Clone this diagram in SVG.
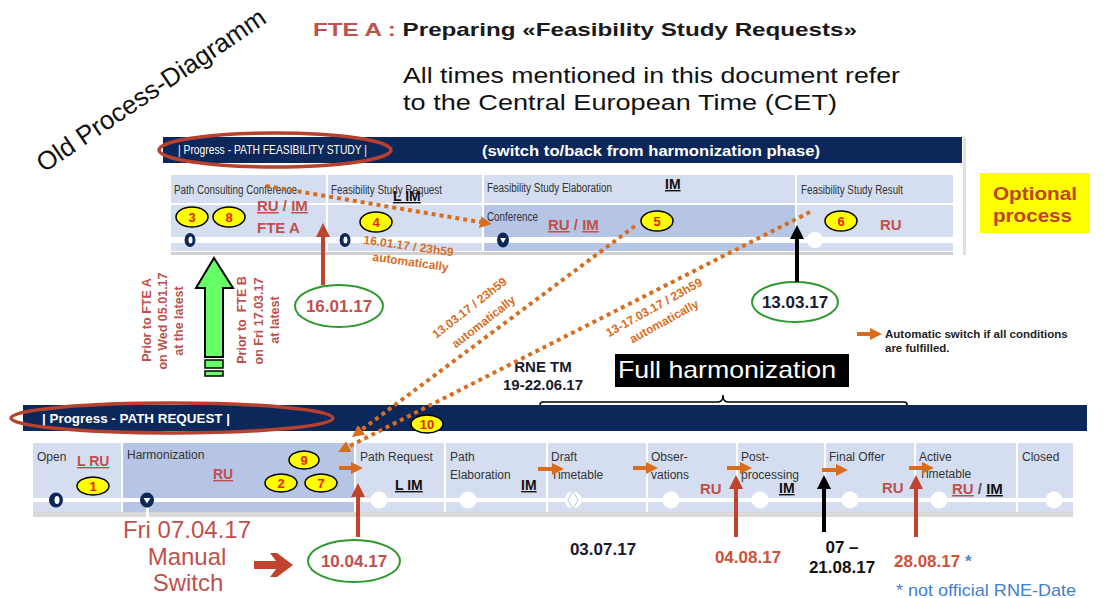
<svg xmlns="http://www.w3.org/2000/svg" width="1104" height="598" viewBox="0 0 1104 598">
<defs>
<style>
text{font-family:"Liberation Sans",Arial,sans-serif}
.hdr{font-size:12px;fill:#333}
.rd{fill:#c0504d;font-weight:bold}
.bk{fill:#111;font-weight:bold}
.ul{text-decoration:underline}
.cl{fill:#d5def0}
.cd{fill:#b6c5e6}
.navy{fill:#0c2759}
.badge ellipse{fill:#ffff00;stroke:#000;stroke-width:1.5}
.badge text{fill:#e8200c;font-weight:bold;font-size:13px;text-anchor:middle}
.dot{stroke:#d96d1e;stroke-width:4;stroke-dasharray:4 4;fill:none}
.oa{stroke:#d96d1e;stroke-width:4;fill:none}
.ra{stroke:#c0432d;stroke-width:4;fill:none}
.ka{stroke:#000;stroke-width:4;fill:none}
.orn{fill:#d96d1e;font-weight:bold;font-size:12px;text-anchor:middle}
.prior{fill:#c0504d;font-weight:bold;font-size:12.5px;text-anchor:middle}
.date{font-weight:bold;font-size:17px;text-anchor:middle}
.gell{fill:#fff;stroke:#2e9a2e;stroke-width:2}
.node{fill:#0c2759}
.wnode{fill:#fff}
</style>
<marker id="ahO" viewBox="0 0 12 12" refX="2" refY="6" markerWidth="12" markerHeight="12" markerUnits="userSpaceOnUse" orient="auto"><path d="M0,0 L12,6 L0,12 Z" fill="#d96d1e"/></marker>
<marker id="ahR" viewBox="0 0 14 14" refX="2" refY="7" markerWidth="14" markerHeight="14" markerUnits="userSpaceOnUse" orient="auto"><path d="M0,0 L14,7 L0,14 Z" fill="#c0432d"/></marker>
<marker id="ahK" viewBox="0 0 14 14" refX="2" refY="7" markerWidth="14" markerHeight="14" markerUnits="userSpaceOnUse" orient="auto"><path d="M0,0 L14,7 L0,14 Z" fill="#000"/></marker>
</defs>
<rect width="1104" height="598" fill="#fff"/>

<g id="titles">
<text x="44" y="173" transform="rotate(-34 44 173)" font-size="26" fill="#111">Old Process-Diagramm</text>
<text x="313" y="36" font-size="19" font-weight="bold" textLength="544" lengthAdjust="spacingAndGlyphs"><tspan fill="#c0504d">FTE A : </tspan><tspan fill="#1a1a1a">Preparing «Feasibility Study Requests»</tspan></text>
<text x="403" y="83" font-size="22" fill="#111" textLength="497" lengthAdjust="spacingAndGlyphs">All times mentioned in this document refer</text>
<text x="403" y="110" font-size="22" fill="#111" textLength="434" lengthAdjust="spacingAndGlyphs">to the Central European Time (CET)</text>
</g>

<g id="panel-feasibility">
<rect class="navy" x="163" y="137" width="799" height="26"/>
<rect x="963" y="137" width="3" height="118" fill="#e0e0e0"/>
<text x="178" y="154" font-size="12" fill="#fff" textLength="189" lengthAdjust="spacingAndGlyphs">| Progress - PATH FEASIBILITY STUDY |</text>
<text x="482" y="156" font-size="15" font-weight="bold" fill="#fff" textLength="338" lengthAdjust="spacingAndGlyphs">(switch to/back from harmonization phase)</text>
<ellipse cx="275" cy="150" rx="116" ry="17" fill="none" stroke="#b7402e" stroke-width="3.5"/>
<rect class="cl" x="171" y="175" width="155" height="28"/>
<rect class="cl" x="328" y="175" width="154" height="28"/>
<rect class="cl" x="484" y="175" width="311" height="28"/>
<rect class="cl" x="797" y="175" width="156" height="28"/>
<rect class="cl" x="171" y="205" width="155" height="32"/>
<rect class="cl" x="328" y="205" width="154" height="32"/>
<rect class="cd" x="484" y="205" width="311" height="32"/>
<rect class="cl" x="797" y="205" width="156" height="32"/>
<rect class="cl" x="171" y="243" width="155" height="8"/>
<rect class="cl" x="328" y="243" width="154" height="8"/>
<rect class="cd" x="484" y="243" width="311" height="8"/>
<rect class="cl" x="797" y="243" width="156" height="8"/>
<rect x="171" y="252" width="782" height="3" fill="#d0d0d0"/>
<text class="hdr" x="174" y="194" textLength="123" lengthAdjust="spacingAndGlyphs">Path Consulting Conference</text>
<text class="hdr" x="331" y="194" textLength="111" lengthAdjust="spacingAndGlyphs">Feasibility Study Request</text>
<text class="hdr" x="487" y="192" textLength="125" lengthAdjust="spacingAndGlyphs">Feasibility Study Elaboration</text>
<text class="hdr" x="801" y="194" textLength="102" lengthAdjust="spacingAndGlyphs">Feasibility Study Result</text>
<text class="hdr" x="487" y="221" textLength="51" lengthAdjust="spacingAndGlyphs">Conference</text>
<text class="bk ul" x="393" y="201" font-size="14">L IM</text>
<text class="bk ul" x="665" y="189" font-size="14">IM</text>
<text class="rd" x="257" y="211" font-size="15"><tspan class="ul">RU</tspan> / <tspan class="ul">IM</tspan></text>
<text class="rd" x="257" y="233" font-size="15">FTE A</text>
<text class="rd" x="548" y="230" font-size="15"><tspan class="ul">RU</tspan> / <tspan class="ul">IM</tspan></text>
<text class="rd" x="880" y="230" font-size="15">RU</text>
<g class="badge"><ellipse cx="192" cy="217" rx="16" ry="10"/><text x="192" y="222">3</text></g>
<g class="badge"><ellipse cx="229" cy="217" rx="16" ry="10"/><text x="229" y="222">8</text></g>
<g class="badge"><ellipse cx="376" cy="222" rx="16" ry="10"/><text x="376" y="227">4</text></g>
<g class="badge"><ellipse cx="657" cy="221" rx="16" ry="10"/><text x="657" y="226">5</text></g>
<g class="badge"><ellipse cx="841" cy="221" rx="16" ry="10"/><text x="841" y="226">6</text></g>
<g id="upper-nodes">
<ellipse class="node" cx="190" cy="240" rx="5.5" ry="7"/><ellipse cx="190.5" cy="240" rx="2" ry="3.5" fill="#fff"/>
<ellipse class="node" cx="345" cy="240" rx="5.5" ry="7"/><ellipse cx="345.5" cy="240" rx="2" ry="3.5" fill="#fff"/>
<ellipse class="node" cx="503" cy="240" rx="6" ry="7.5"/><path d="M500,238 L506,238 L503,243 Z" fill="#fff"/>
<circle class="wnode" cx="815" cy="240" r="8"/>
</g>
</g>

<g id="optional">
<rect x="980" y="173" width="110" height="60" fill="#ffff00"/>
<text x="993" y="200" font-size="18" font-weight="bold" fill="#c0432d" textLength="84" lengthAdjust="spacingAndGlyphs">Optional</text>
<text x="993" y="222" font-size="18" font-weight="bold" fill="#c0432d" textLength="79" lengthAdjust="spacingAndGlyphs">process</text>
</g>

<g id="green-arrow">
<path d="M214,258 L233,288 L223,288 L223,357 L205,357 L205,288 L196,288 Z" fill="#66ff66" stroke="#000" stroke-width="2"/>
<rect x="205" y="360" width="18" height="8" fill="#66ff66" stroke="#000" stroke-width="1.5"/>
<rect x="205" y="371" width="18" height="5" fill="#66ff66" stroke="#000" stroke-width="1.5"/>
</g>

<g id="prior-labels">
<text class="prior" transform="translate(151,320) rotate(-90)">Prior to FTE A</text>
<text class="prior" transform="translate(167,321) rotate(-90)">on Wed 05.01.17</text>
<text class="prior" transform="translate(183,321) rotate(-90)">at the latest</text>
<text class="prior" transform="translate(246,320) rotate(-90)" xml:space="preserve">Prior to  FTE B</text>
<text class="prior" transform="translate(263,321) rotate(-90)">on Fri 17.03.17</text>
<text class="prior" transform="translate(279,320) rotate(-90)">at latest</text>
</g>

<g id="date-16-01">
<ellipse class="gell" cx="339" cy="306" rx="44" ry="21"/>
<text class="date" x="339" y="312" fill="#c0504d">16.01.17</text>
</g>
<g id="date-13-03">
<ellipse class="gell" cx="795" cy="302" rx="43" ry="20"/>
<text class="date" x="795" y="308" fill="#1a1a33">13.03.17</text>
</g>

<g id="legend">
<line class="oa" x1="857" y1="334" x2="872" y2="334" marker-end="url(#ahO)"/>
<text x="885" y="338" font-size="11.5" font-weight="bold" fill="#222">Automatic switch if all conditions</text>
<text x="885" y="352" font-size="11.5" font-weight="bold" fill="#222">are fulfilled.</text>
</g>

<g id="rne">
<text x="543" y="372" font-size="15" font-weight="bold" fill="#1a1a2e" text-anchor="middle">RNE TM</text>
<text x="543" y="390" font-size="15" font-weight="bold" fill="#1a1a2e" text-anchor="middle">19-22.06.17</text>
</g>

<g id="full-harmonization">
<rect x="615" y="354" width="234" height="33" fill="#000"/>
<text x="618" y="378" font-size="24" fill="#fff" textLength="218" lengthAdjust="spacingAndGlyphs">Full harmonization</text>
<path d="M540,412 V405 Q540,402 543,402 H718 Q723,402 723,395 Q723,402 728,402 H904 Q907,402 907,405 V412" fill="none" stroke="#000" stroke-width="1.5"/>
</g>

<g id="panel-path-request">
<rect class="navy" x="23" y="405" width="1064" height="26"/>
<text x="42" y="423" font-size="13" font-weight="bold" fill="#fff" textLength="188" lengthAdjust="spacingAndGlyphs">| Progress - PATH REQUEST |</text>
<ellipse cx="172" cy="418" rx="161" ry="15" fill="none" stroke="#b7402e" stroke-width="3.5"/>
<rect class="cl" x="33" y="443" width="88" height="69"/>
<rect class="cd" x="123" y="443" width="231" height="69"/>
<rect class="cl" x="356" y="443" width="88" height="69"/>
<rect class="cl" x="446" y="443" width="100" height="69"/>
<rect class="cl" x="548" y="443" width="98" height="69"/>
<rect class="cl" x="648" y="443" width="88" height="69"/>
<rect class="cl" x="738" y="443" width="86" height="69"/>
<rect class="cl" x="826" y="443" width="88" height="69"/>
<rect class="cl" x="916" y="443" width="100" height="69"/>
<rect class="cl" x="1018" y="443" width="55" height="69"/>
<rect x="33" y="498" width="1040" height="4" fill="#fff"/>
<rect x="33" y="512" width="1040" height="5" fill="#d9d9d9"/>
<rect x="146" y="508" width="3" height="12" fill="#fff"/>
<text class="hdr" x="37" y="461" font-size="12.5">Open</text>
<text class="hdr" x="127" y="459" font-size="12.5">Harmonization</text>
<text class="hdr" x="360" y="461" font-size="12.5">Path Request</text>
<text class="hdr" x="450" y="461" font-size="12.5">Path</text>
<text class="hdr" x="450" y="479" font-size="12.5">Elaboration</text>
<text class="hdr" x="551" y="461" font-size="12.5">Draft</text>
<text class="hdr" x="551" y="479" font-size="12.5">Timetable</text>
<text class="hdr" x="651" y="461" font-size="12.5">Obser-</text>
<text class="hdr" x="651" y="479" font-size="12.5">vations</text>
<text class="hdr" x="741" y="461" font-size="12.5">Post-</text>
<text class="hdr" x="741" y="479" font-size="12.5">processing</text>
<text class="hdr" x="829" y="461" font-size="12.5">Final Offer</text>
<text class="hdr" x="919" y="461" font-size="12.5">Active</text>
<text class="hdr" x="919" y="478" font-size="12.5">Timetable</text>
<text class="rd ul" x="77" y="466" font-size="14">L RU</text>
<text class="rd ul" x="213" y="479" font-size="14">RU</text>
<text class="bk ul" x="395" y="490" font-size="14">L IM</text>
<text class="bk ul" x="521" y="490" font-size="14">IM</text>
<text class="rd" x="700" y="494" font-size="15">RU</text>
<text class="bk ul" x="779" y="493" font-size="14">IM</text>
<text class="rd" x="882" y="493" font-size="15">RU</text>
<text x="952" y="494" font-size="15" font-weight="bold"><tspan class="ul" fill="#c0504d">RU</tspan><tspan fill="#555"> / </tspan><tspan class="ul" fill="#111">IM</tspan></text>
<text class="hdr" x="1022" y="461" font-size="12.5">Closed</text>
<g class="badge"><ellipse cx="93" cy="486" rx="16" ry="9"/><text x="93" y="491">1</text></g>
<g class="badge"><ellipse cx="304" cy="460" rx="15" ry="9"/><text x="304" y="465">9</text></g>
<g class="badge"><ellipse cx="281" cy="483" rx="16" ry="9"/><text x="281" y="488">2</text></g>
<g class="badge"><ellipse cx="321" cy="483" rx="16" ry="9"/><text x="321" y="488">7</text></g>
<g class="badge"><ellipse cx="427" cy="424" rx="16" ry="9"/><text x="427" y="429">10</text></g>
<g id="lower-nodes">
<ellipse class="node" cx="56" cy="500" rx="7" ry="7.5"/><ellipse cx="57" cy="500" rx="2.5" ry="4" fill="#fff"/>
<ellipse class="node" cx="147" cy="500" rx="7" ry="7.5"/><path d="M143.5,498 L150.5,498 L147,503.5 Z" fill="#fff"/>
<circle class="wnode" cx="379" cy="500" r="8.5"/>
<circle class="wnode" cx="468" cy="500" r="8.5"/>
<circle class="wnode" cx="573" cy="500" r="8.5"/>
<path d="M573,491 L578,500 L573,509 L568,500 Z" fill="none" stroke="#c9d4ea" stroke-width="1.2"/>
<circle class="wnode" cx="671" cy="500" r="8.5"/>
<circle class="wnode" cx="760" cy="500" r="8.5"/>
<circle class="wnode" cx="850" cy="500" r="8.5"/>
<circle class="wnode" cx="939" cy="500" r="8.5"/>
<circle class="wnode" cx="1054" cy="500" r="8.5"/>
</g>
</g>

<g id="connectors">
<line class="dot" x1="266" y1="186" x2="482" y2="222.4" marker-end="url(#ahO)"/>
<line class="dot" x1="635" y1="226" x2="360" y2="431" marker-end="url(#ahO)"/>
<line class="dot" x1="810" y1="212" x2="347" y2="447.5" marker-end="url(#ahO)"/>
<line class="ra" x1="323" y1="285" x2="323" y2="235" marker-end="url(#ahR)"/>
<line class="ka" x1="797" y1="282" x2="797" y2="237" marker-end="url(#ahK)"/>
<line class="oa" x1="339" y1="468" x2="353" y2="468" marker-end="url(#ahO)"/>
<line class="oa" x1="538" y1="469" x2="554" y2="469" marker-end="url(#ahO)"/>
<line class="oa" x1="633" y1="468" x2="648" y2="468" marker-end="url(#ahO)"/>
<line class="oa" x1="727" y1="468" x2="742" y2="468" marker-end="url(#ahO)"/>
<line class="oa" x1="822" y1="470" x2="838" y2="470" marker-end="url(#ahO)"/>
<line class="oa" x1="909" y1="468" x2="924" y2="468" marker-end="url(#ahO)"/>
<line class="ra" x1="358" y1="537" x2="358" y2="495" marker-end="url(#ahR)"/>
<line class="ra" x1="736" y1="537" x2="736" y2="487" marker-end="url(#ahR)"/>
<line class="ka" x1="824" y1="532" x2="824" y2="487" marker-end="url(#ahK)"/>
<line class="ra" x1="916" y1="537" x2="916" y2="487" marker-end="url(#ahR)"/>
<path d="M254,561 L276,561 L270,553 L277,553 L293,565 L277,577 L270,577 L276,569 L254,569 Z" fill="#c0432d"/>
</g>

<g id="connector-labels">
<text class="orn" transform="translate(408,250) rotate(8)">16.01.17 / 23h59</text>
<text class="orn" transform="translate(410,266) rotate(8)">automatically</text>
<text class="orn" transform="translate(472,311) rotate(-38)">13.03.17 / 23h59</text>
<text class="orn" transform="translate(486,325) rotate(-38)">automatically</text>
<text class="orn" transform="translate(656,311) rotate(-29)">13-17.03.17 / 23h59</text>
<text class="orn" transform="translate(666,325) rotate(-29)">automatically</text>
</g>

<g id="lower-dates">
<text x="187" y="538" font-size="24" fill="#c0504d" text-anchor="middle">Fri 07.04.17</text>
<text x="187" y="565" font-size="24" fill="#c0504d" text-anchor="middle">Manual</text>
<text x="188" y="591" font-size="24" fill="#c0504d" text-anchor="middle">Switch</text>
<ellipse class="gell" cx="354" cy="561" rx="46" ry="21"/>
<text class="date" x="354" y="567" fill="#c0504d">10.04.17</text>
<text class="date" x="603" y="555" fill="#1a1a2e">03.07.17</text>
<text class="date" x="748" y="563" fill="#d0503a">04.08.17</text>
<text class="date" x="842" y="553" fill="#111">07 –</text>
<text class="date" x="842" y="573" fill="#111">21.08.17</text>
<text x="894" y="567" font-size="17" font-weight="bold"><tspan fill="#d0503a">28.08.17</tspan><tspan fill="#4a86d0"> *</tspan></text>
<text x="896" y="596" font-size="17" fill="#3f7fd0" textLength="180" lengthAdjust="spacingAndGlyphs">* not official RNE-Date</text>
</g>
</svg>
